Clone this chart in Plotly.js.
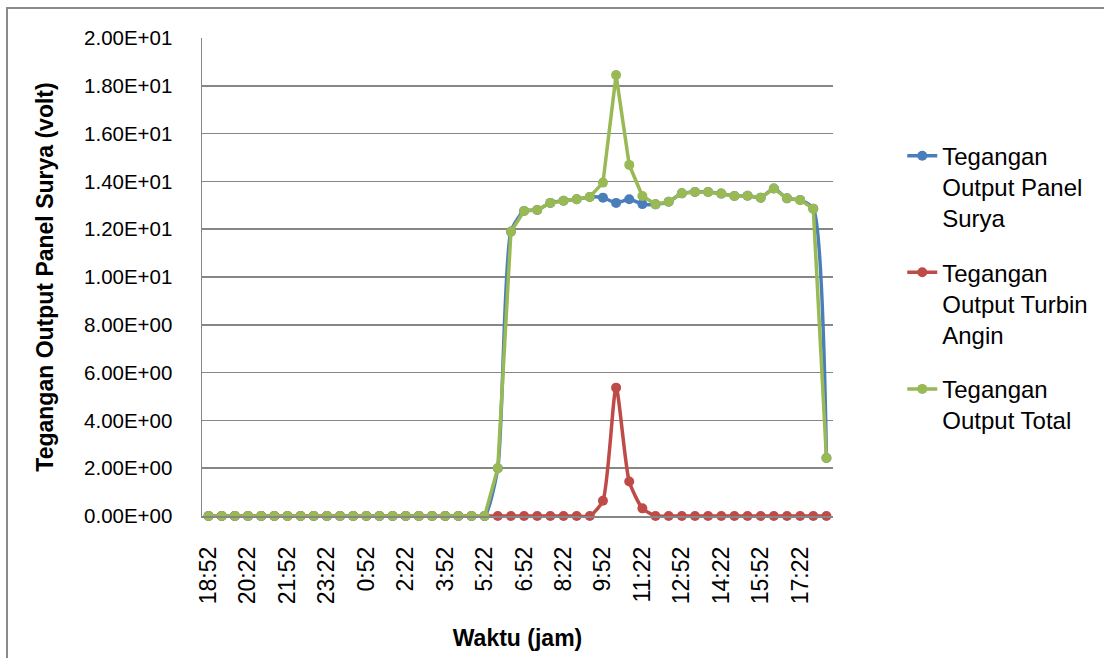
<!DOCTYPE html>
<html>
<head>
<meta charset="utf-8">
<script src="https://cdn.plot.ly/plotly-3.0.1.min.js"></script>
<style>
  html, body { margin: 0; padding: 0; background: #fff; }
  #wrap { position: relative; width: 1104px; height: 658px; overflow: hidden; }
  #chart { width: 1104px; height: 658px; }
  #frame { position: absolute; left: 6px; top: 7px; width: 1120px; height: 680px;
           border: 2px solid #8a8a8a; pointer-events: none; box-sizing: border-box; }
</style>
</head>
<body>
<div id="wrap">
  <div id="chart"></div>
  <div id="frame"></div>
</div>
<script>
const times = ["18:52","19:22","19:52","20:22","20:52","21:22","21:52","22:22","22:52","23:22",
  "23:52","0:22","0:52","1:22","1:52","2:22","2:52","3:22","3:52","4:22",
  "4:52","5:22","5:52","6:22","6:52","7:22","7:52","8:22","8:52","9:22",
  "9:52","10:22","10:52","11:22","11:52","12:22","12:52","13:22","13:52","14:22",
  "14:52","15:22","15:52","16:22","16:52","17:22","17:52","18:22"];

const solarPanel = [0,0,0,0,0,0,0,0,0,0,
  0,0,0,0,0,0,0,0,0,0,
  0,0,2.0,11.9,12.76,12.8,13.1,13.19,13.25,13.35,
  13.32,13.1,13.25,13.05,13.04,13.15,13.5,13.56,13.56,13.49,
  13.39,13.4,13.32,13.7,13.29,13.22,12.86,2.43];

const windTurbine = [0,0,0,0,0,0,0,0,0,0,
  0,0,0,0,0,0,0,0,0,0,
  0,0,0,0,0,0,0,0,0,0,
  0.64,5.37,1.44,0.32,0,0,0,0,0,0,
  0,0,0,0,0,0,0,0];

const totalOutput = [0,0,0,0,0,0,0,0,0,0,
  0,0,0,0,0,0,0,0,0,0,
  0,0,2.0,11.9,12.76,12.8,13.1,13.19,13.25,13.35,
  13.95,18.45,14.69,13.39,13.04,13.15,13.5,13.56,13.56,13.49,
  13.39,13.4,13.32,13.7,13.29,13.22,12.86,2.43];

const seriesNames = ["Tegangan<br>Output Panel<br>Surya",
                     "Tegangan<br>Output Turbin<br>Angin",
                     "Tegangan<br>Output Total"];

const xTickLabels = ["18:52","20:22","21:52","23:22","0:52","2:22","3:52","5:22",
  "6:52","8:22","9:52","11:22","12:52","14:22","15:52","17:22"];

const yTickValues = [0,2,4,6,8,10,12,14,16,18,20];
const yTickLabels = ["0.00E+00","2.00E+00","4.00E+00","6.00E+00","8.00E+00","1.00E+01",
  "1.20E+01","1.40E+01","1.60E+01","1.80E+01","2.00E+01"];

const colors = ["#4A7EBB", "#BE4B48", "#98B954"];
const shapes = ["spline", "spline", "linear"];
const data = [solarPanel, windTurbine, totalOutput].map((vals, i) => ({
  x: times,
  y: vals,
  type: "scatter",
  mode: "lines+markers",
  name: seriesNames[i],
  legendgroup: "g" + i,
  line: { color: colors[i], width: 3.5, shape: shapes[i], smoothing: 0.6 },
  marker: { color: colors[i], size: 10 },
  cliponaxis: false
}));

const font = "Liberation Sans, Arial, sans-serif";
const layout = {
  width: 1104, height: 658,
  margin: { l: 202, r: 270, t: 38, b: 142 },
  paper_bgcolor: "rgba(0,0,0,0)",
  plot_bgcolor: "#fff",
  showlegend: true,
  legend: {
    x: 1.108, xanchor: "left", y: 0.80, yanchor: "top",
    font: { family: font, size: 24, color: "#000" },
    valign: "top", traceorder: "grouped", tracegroupgap: 20,
    bgcolor: "rgba(0,0,0,0)"
  },
  xaxis: {
    type: "category",
    categoryorder: "array", categoryarray: times,
    range: [-0.5, times.length - 0.5],
    tickmode: "array", tickvals: xTickLabels, ticktext: xTickLabels,
    tickangle: -90, ticks: "", ticklabelstandoff: 20,
    tickfont: { family: font, size: 23, color: "#000" },
    showgrid: false, zeroline: false,
    showline: true, linecolor: "#868686", linewidth: 1.5,
    automargin: false,
    title: { text: "<b>Waktu (jam)</b>", font: { family: font, size: 23, color: "#000" }, standoff: 26 }
  },
  yaxis: {
    range: [0, 20],
    tickmode: "array", tickvals: yTickValues, ticktext: yTickLabels,
    ticks: "", ticklabelstandoff: 24,
    tickfont: { family: font, size: 20.5, color: "#000" },
    showgrid: true, gridcolor: "#868686", gridwidth: 1.5,
    zeroline: false,
    showline: true, linecolor: "#868686", linewidth: 1.5,
    automargin: false,
    title: { text: "<b>Tegangan Output Panel Surya (volt)</b>", font: { family: font, size: 23, color: "#000" }, standoff: 24 }
  }
};

Plotly.newPlot("chart", data, layout, { displayModeBar: false, staticPlot: true });
</script>
</body>
</html>
